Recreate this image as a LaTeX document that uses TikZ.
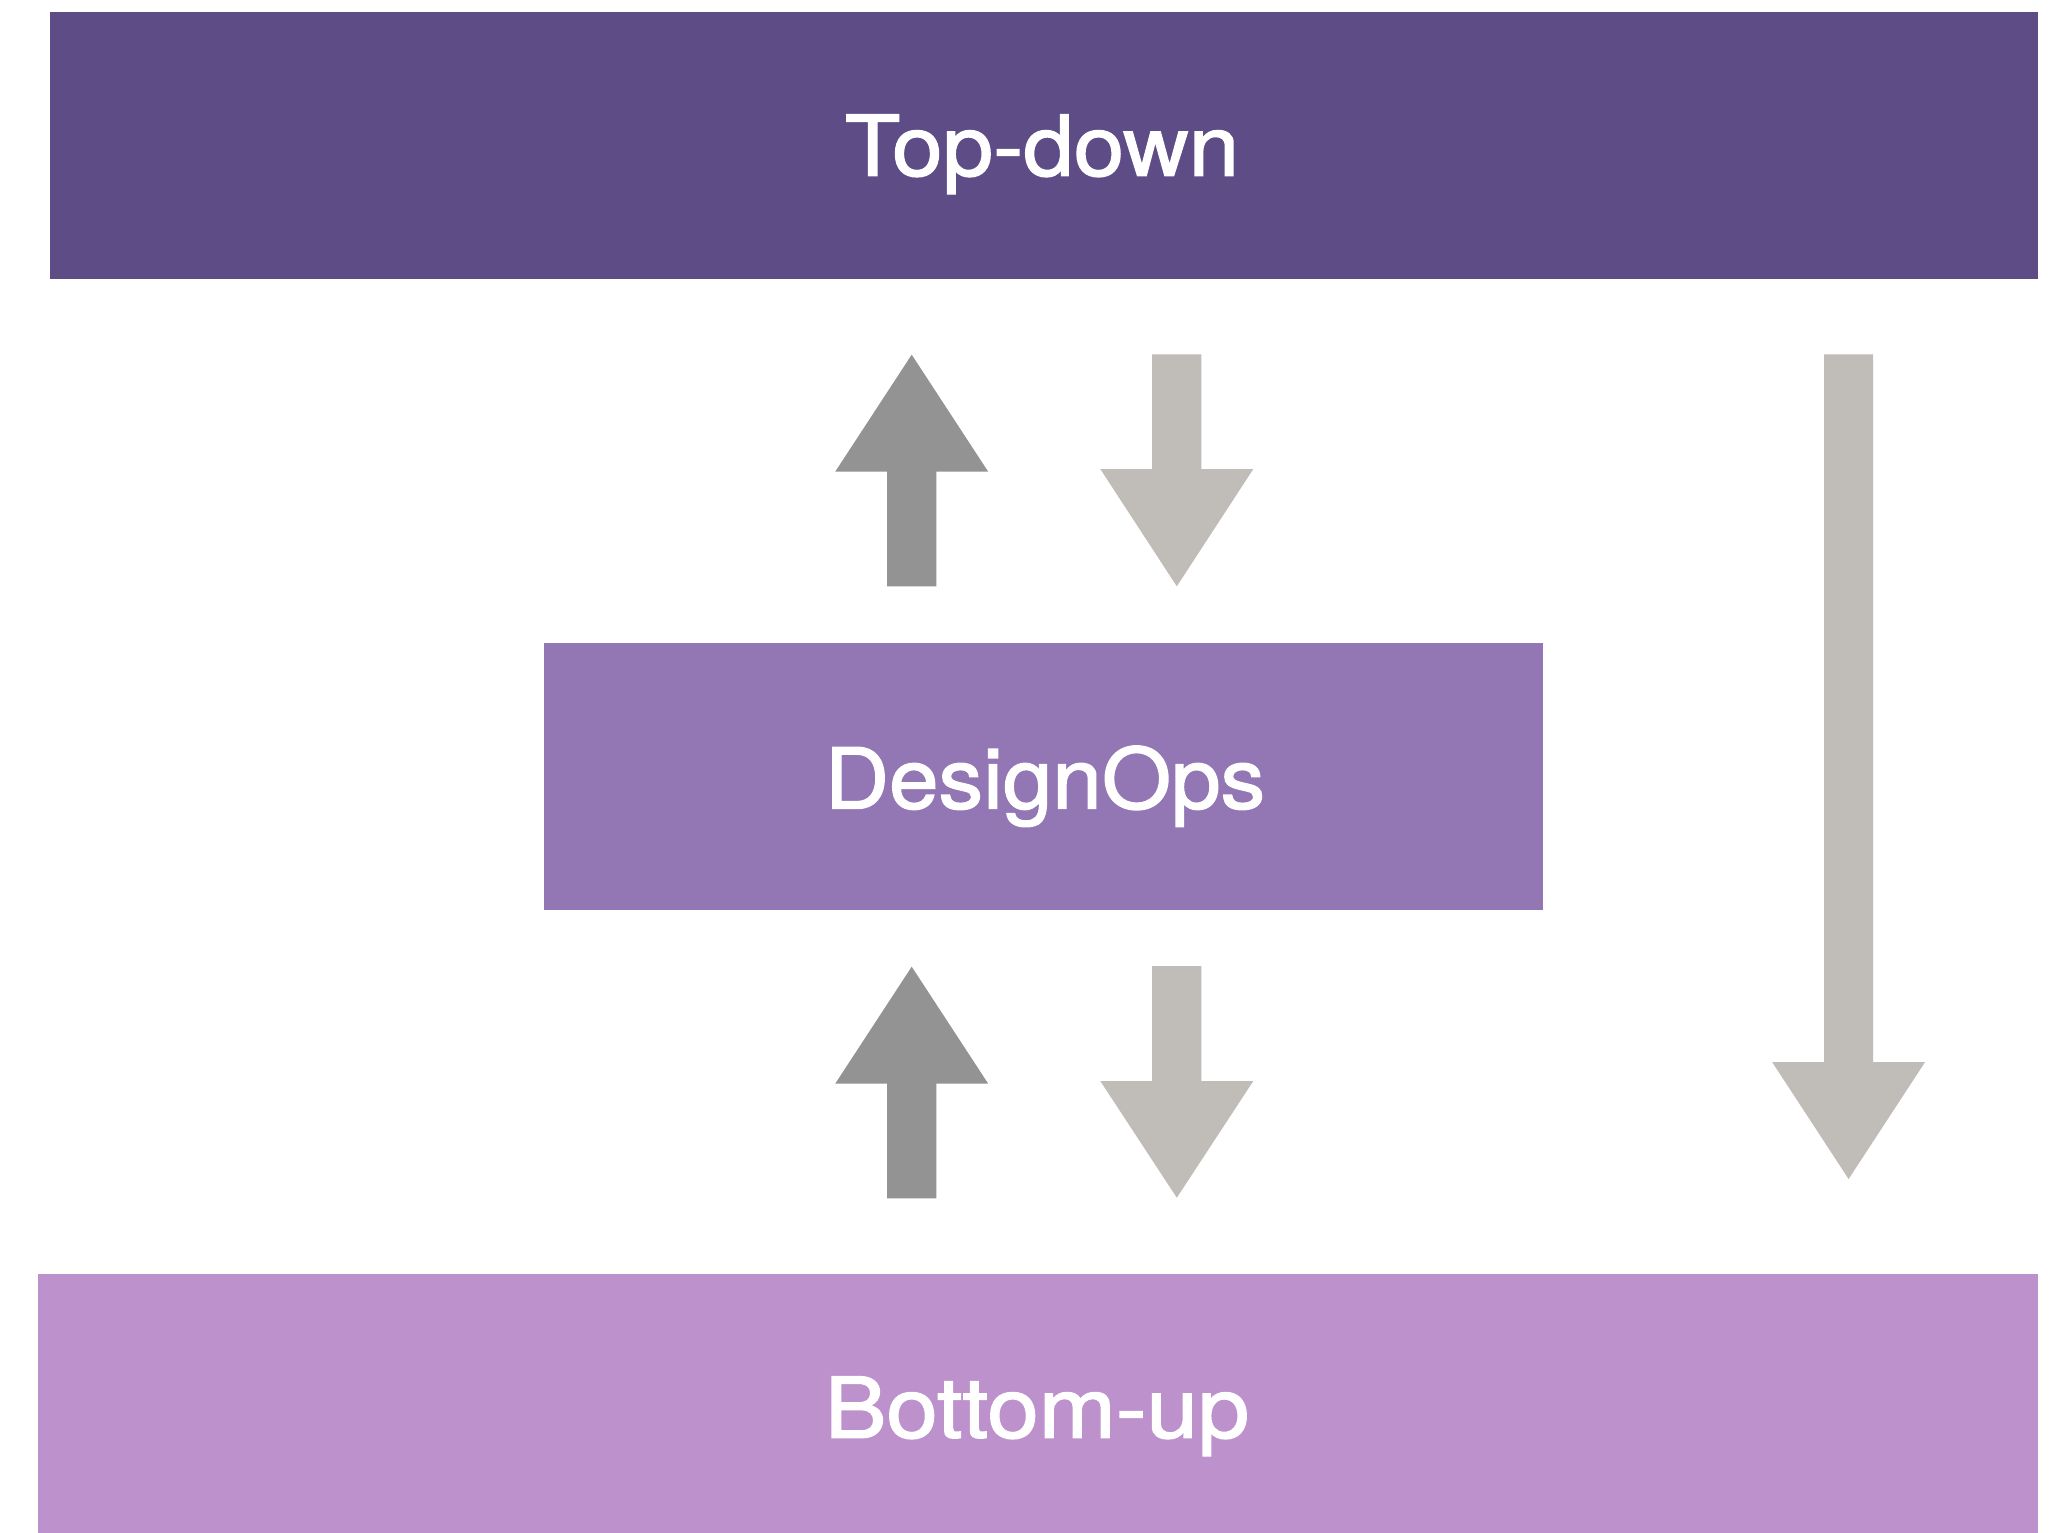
\documentclass[tikz,border=0pt]{standalone}
\usepackage{fontspec}
\setmainfont{TeX Gyre Heros}
\newfontfamily\labelface{TeX Gyre Heros}[FakeBold=1.6]
\definecolor{topcol}{RGB}{94,76,134}
\definecolor{midcol}{RGB}{147,118,180}
\definecolor{botcol}{RGB}{189,145,204}
\definecolor{upcol}{RGB}{147,147,147}
\definecolor{downcol}{RGB}{192,188,184}
% block arrow: centre x, tail y, head-base y, tip y, colour
\newcommand\blockarrow[5]{%
  \fill[#5] (#1-24.6,#2) -- (#1+24.6,#2) -- (#1+24.6,#3) -- (#1+76.5,#3)
    -- (#1,#4) -- (#1-76.5,#3) -- (#1-24.6,#3) -- cycle;}
\begin{document}
\begin{tikzpicture}[x=1pt,y=-1pt,
  band/.style={rectangle,inner sep=0pt,outer sep=0pt,draw=none},
  label/.style={anchor=base,inner sep=0pt,text=white,
    font=\labelface\fontsize{84}{90}\selectfont}]
\useasboundingbox (0,0) rectangle (2056,1533);
\fill[white] (0,0) rectangle (2056,1533);
% the three levels
\node[band,fill=topcol,minimum width=1988pt,minimum height=266.7pt] (top) at (1044,145.35) {};
\node[band,fill=midcol,minimum width=999pt,minimum height=267pt] (mid) at (1043.5,776.5) {};
\node[band,fill=botcol,minimum width=2000pt,minimum height=259pt] (bot) at (1038,1403.5) {};
\node[label] (toplbl) at (1042,175.7) {\scalebox{1.08}[1]{Top-down}};
\node[label] (midlbl) at (1045,808.5) {\scalebox{1.06}[1]{DesignOps}};
\node[label] (botlbl) at (1037,1437.7) {\scalebox{1.1}[1]{Bottom-up}};
% flows between the levels
\blockarrow{911.7}{586.3}{471.7}{354.7}{upcol}
\blockarrow{1176.8}{354.3}{469}{586.3}{downcol}
\blockarrow{911.7}{1198.3}{1083.7}{966.7}{upcol}
\blockarrow{1176.8}{966}{1081}{1197.7}{downcol}
\blockarrow{1848.6}{354.3}{1062}{1179}{downcol}
\end{tikzpicture}
\end{document}
